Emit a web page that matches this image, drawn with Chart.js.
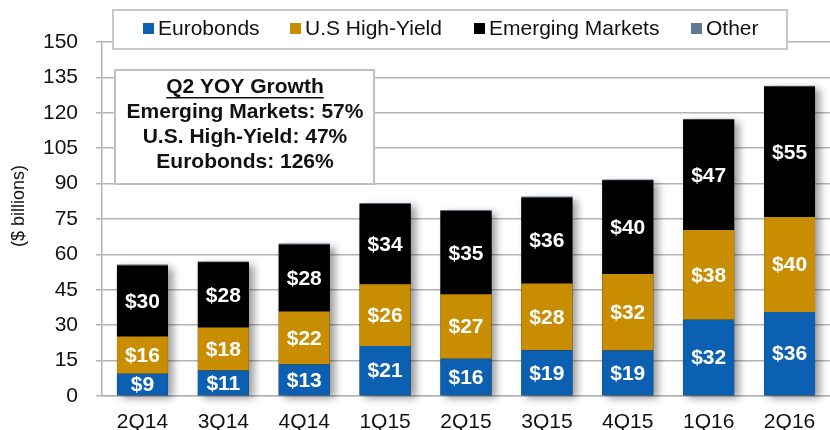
<!DOCTYPE html>
<html>
<head>
<meta charset="utf-8">
<script src="https://cdn.jsdelivr.net/npm/chart.js@4"></script>
<style>
  html, body { margin: 0; padding: 0; background: #fff; }
  #wrap { width: 830px; height: 430px; }
</style>
</head>
<body>
<div id="wrap"><canvas id="bondChart" width="830" height="430"></canvas></div>
<script>
const quarters = ['2Q14', '3Q14', '4Q14', '1Q15', '2Q15', '3Q15', '4Q15', '1Q16', '2Q16'];
const eurobonds = [9.4, 10.8, 13.4, 21.2, 15.8, 19.4, 19.3, 32.3, 35.6];
const highYield = [15.8, 18.2, 22.4, 26.2, 27.3, 28.3, 32.4, 38.0, 40.2];
const emerging = [30.0, 27.6, 28.3, 34.0, 35.2, 36.3, 39.6, 46.8, 55.2];
const other = [0.4, 0.3, 0.4, 0.3, 0.4, 0.4, 0.3, 0.3, 0.4];
const yTicks = [0, 15, 30, 45, 60, 75, 90, 105, 120, 135, 150];
const yTitle = '($ billions)';
const growthTitle = 'Q2 YOY Growth';
const growthLines = ['Emerging Markets: 57%', 'U.S. High-Yield: 47%', 'Eurobonds: 126%'];

const FONT = "'Liberation Sans', Arial, sans-serif";

// soft drop shadow behind each whole stacked column
const barShadow = {
  id: 'barShadow',
  beforeDatasetsDraw(chart) {
    const ctx = chart.ctx;
    const first = chart.getDatasetMeta(0).data;
    const last = chart.getDatasetMeta(chart.data.datasets.length - 1).data;
    ctx.save();
    ctx.shadowColor = 'rgba(0,0,0,0.4)';
    ctx.shadowBlur = 8;
    ctx.shadowOffsetX = 5;
    ctx.shadowOffsetY = 3;
    ctx.fillStyle = '#000';
    first.forEach((el, i) => {
      const top = last[i].y;
      ctx.fillRect(el.x - el.width / 2, top, el.width, el.base - top);
    });
    ctx.restore();
  }
};

// white "$n" labels centred in each segment
const segLabels = {
  id: 'segLabels',
  afterDatasetsDraw(chart) {
    const ctx = chart.ctx;
    ctx.save();
    ctx.fillStyle = '#fff';
    ctx.font = 'bold 21px ' + FONT;
    ctx.textAlign = 'center';
    ctx.textBaseline = 'middle';
    chart.data.datasets.forEach((ds, d) => {
      if (ds.label === 'Other') return;
      chart.getDatasetMeta(d).data.forEach((el, i) => {
        ctx.fillText('$' + Math.round(ds.data[i]), el.x, (el.y + el.base) / 2 + 1);
      });
    });
    ctx.restore();
  }
};

// boxed legend, growth note and axis title
const boxes = {
  id: 'boxes',
  afterDraw(chart) {
    const ctx = chart.ctx;
    ctx.save();
    // axis title, sits a little above the plot centre
    ctx.save();
    ctx.translate(19, 206);
    ctx.rotate(-Math.PI / 2);
    ctx.fillStyle = '#111';
    ctx.font = '18px ' + FONT;
    ctx.textAlign = 'center';
    ctx.textBaseline = 'middle';
    ctx.fillText(yTitle, 0, 0);
    ctx.restore();
    // legend
    ctx.fillStyle = '#fff';
    ctx.fillRect(113, 10, 674, 39);
    ctx.strokeStyle = '#c8c8c8';
    ctx.lineWidth = 2;
    ctx.strokeRect(113, 10, 674, 39);
    ctx.font = '21px ' + FONT;
    ctx.textBaseline = 'middle';
    ctx.textAlign = 'left';
    const starts = [143, 290, 474, 691];
    chart.data.datasets.forEach((ds, d) => {
      const x = starts[d];
      ctx.fillStyle = ds.backgroundColor;
      ctx.fillRect(x, 23, 11, 11);
      ctx.fillStyle = '#111';
      ctx.fillText(ds.label, x + 15, 29);
    });
    // growth note
    ctx.fillStyle = '#fff';
    ctx.fillRect(115, 70, 259, 114);
    ctx.strokeStyle = '#c0c0c0';
    ctx.strokeRect(115, 70, 259, 114);
    ctx.fillStyle = '#111';
    ctx.font = 'bold 21px ' + FONT;
    ctx.textAlign = 'center';
    const cx = 245;
    ctx.fillText(growthTitle, cx, 87);
    const w = ctx.measureText(growthTitle).width;
    ctx.fillRect(cx - w / 2, 97, w, 1.5);
    growthLines.forEach((t, i) => ctx.fillText(t, cx, 112 + i * 25));
    ctx.restore();
  }
};

new Chart(document.getElementById('bondChart'), {
  type: 'bar',
  data: {
    labels: quarters,
    datasets: [
      { label: 'Eurobonds', data: eurobonds, backgroundColor: '#0c60b1' },
      { label: 'U.S High-Yield', data: highYield, backgroundColor: '#c98d02' },
      { label: 'Emerging Markets', data: emerging, backgroundColor: '#000000' },
      { label: 'Other', data: other, backgroundColor: '#5e7a93' }
    ]
  },
  options: {
    responsive: false,
    animation: false,
    layout: { padding: { top: 42, right: 0, left: 0, bottom: 0 } },
    datasets: { bar: { categoryPercentage: 1, barPercentage: 0.63 } },
    plugins: { legend: { display: false }, tooltip: { enabled: false } },
    scales: {
      x: {
        stacked: true,
        grid: { display: false },
        border: { display: true, color: '#b4b4b4', width: 1.5 },
        ticks: { color: '#111', font: { family: FONT, size: 21 }, padding: 6 },
        afterFit: s => { s.height = 34; }
      },
      y: {
        stacked: true,
        min: 0,
        max: 150,
        afterBuildTicks: s => { s.ticks = yTicks.map(v => ({ value: v })); },
        grid: { color: '#b4b4b4', lineWidth: 1.5, tickLength: 6 },
        border: { display: true, color: '#b4b4b4', width: 1.5 },
        ticks: { color: '#111', font: { family: FONT, size: 21 }, padding: 18 },
        afterFit: s => { s.width = 102; }
      }
    }
  },
  plugins: [barShadow, segLabels, boxes]
});
</script>
</body>
</html>
